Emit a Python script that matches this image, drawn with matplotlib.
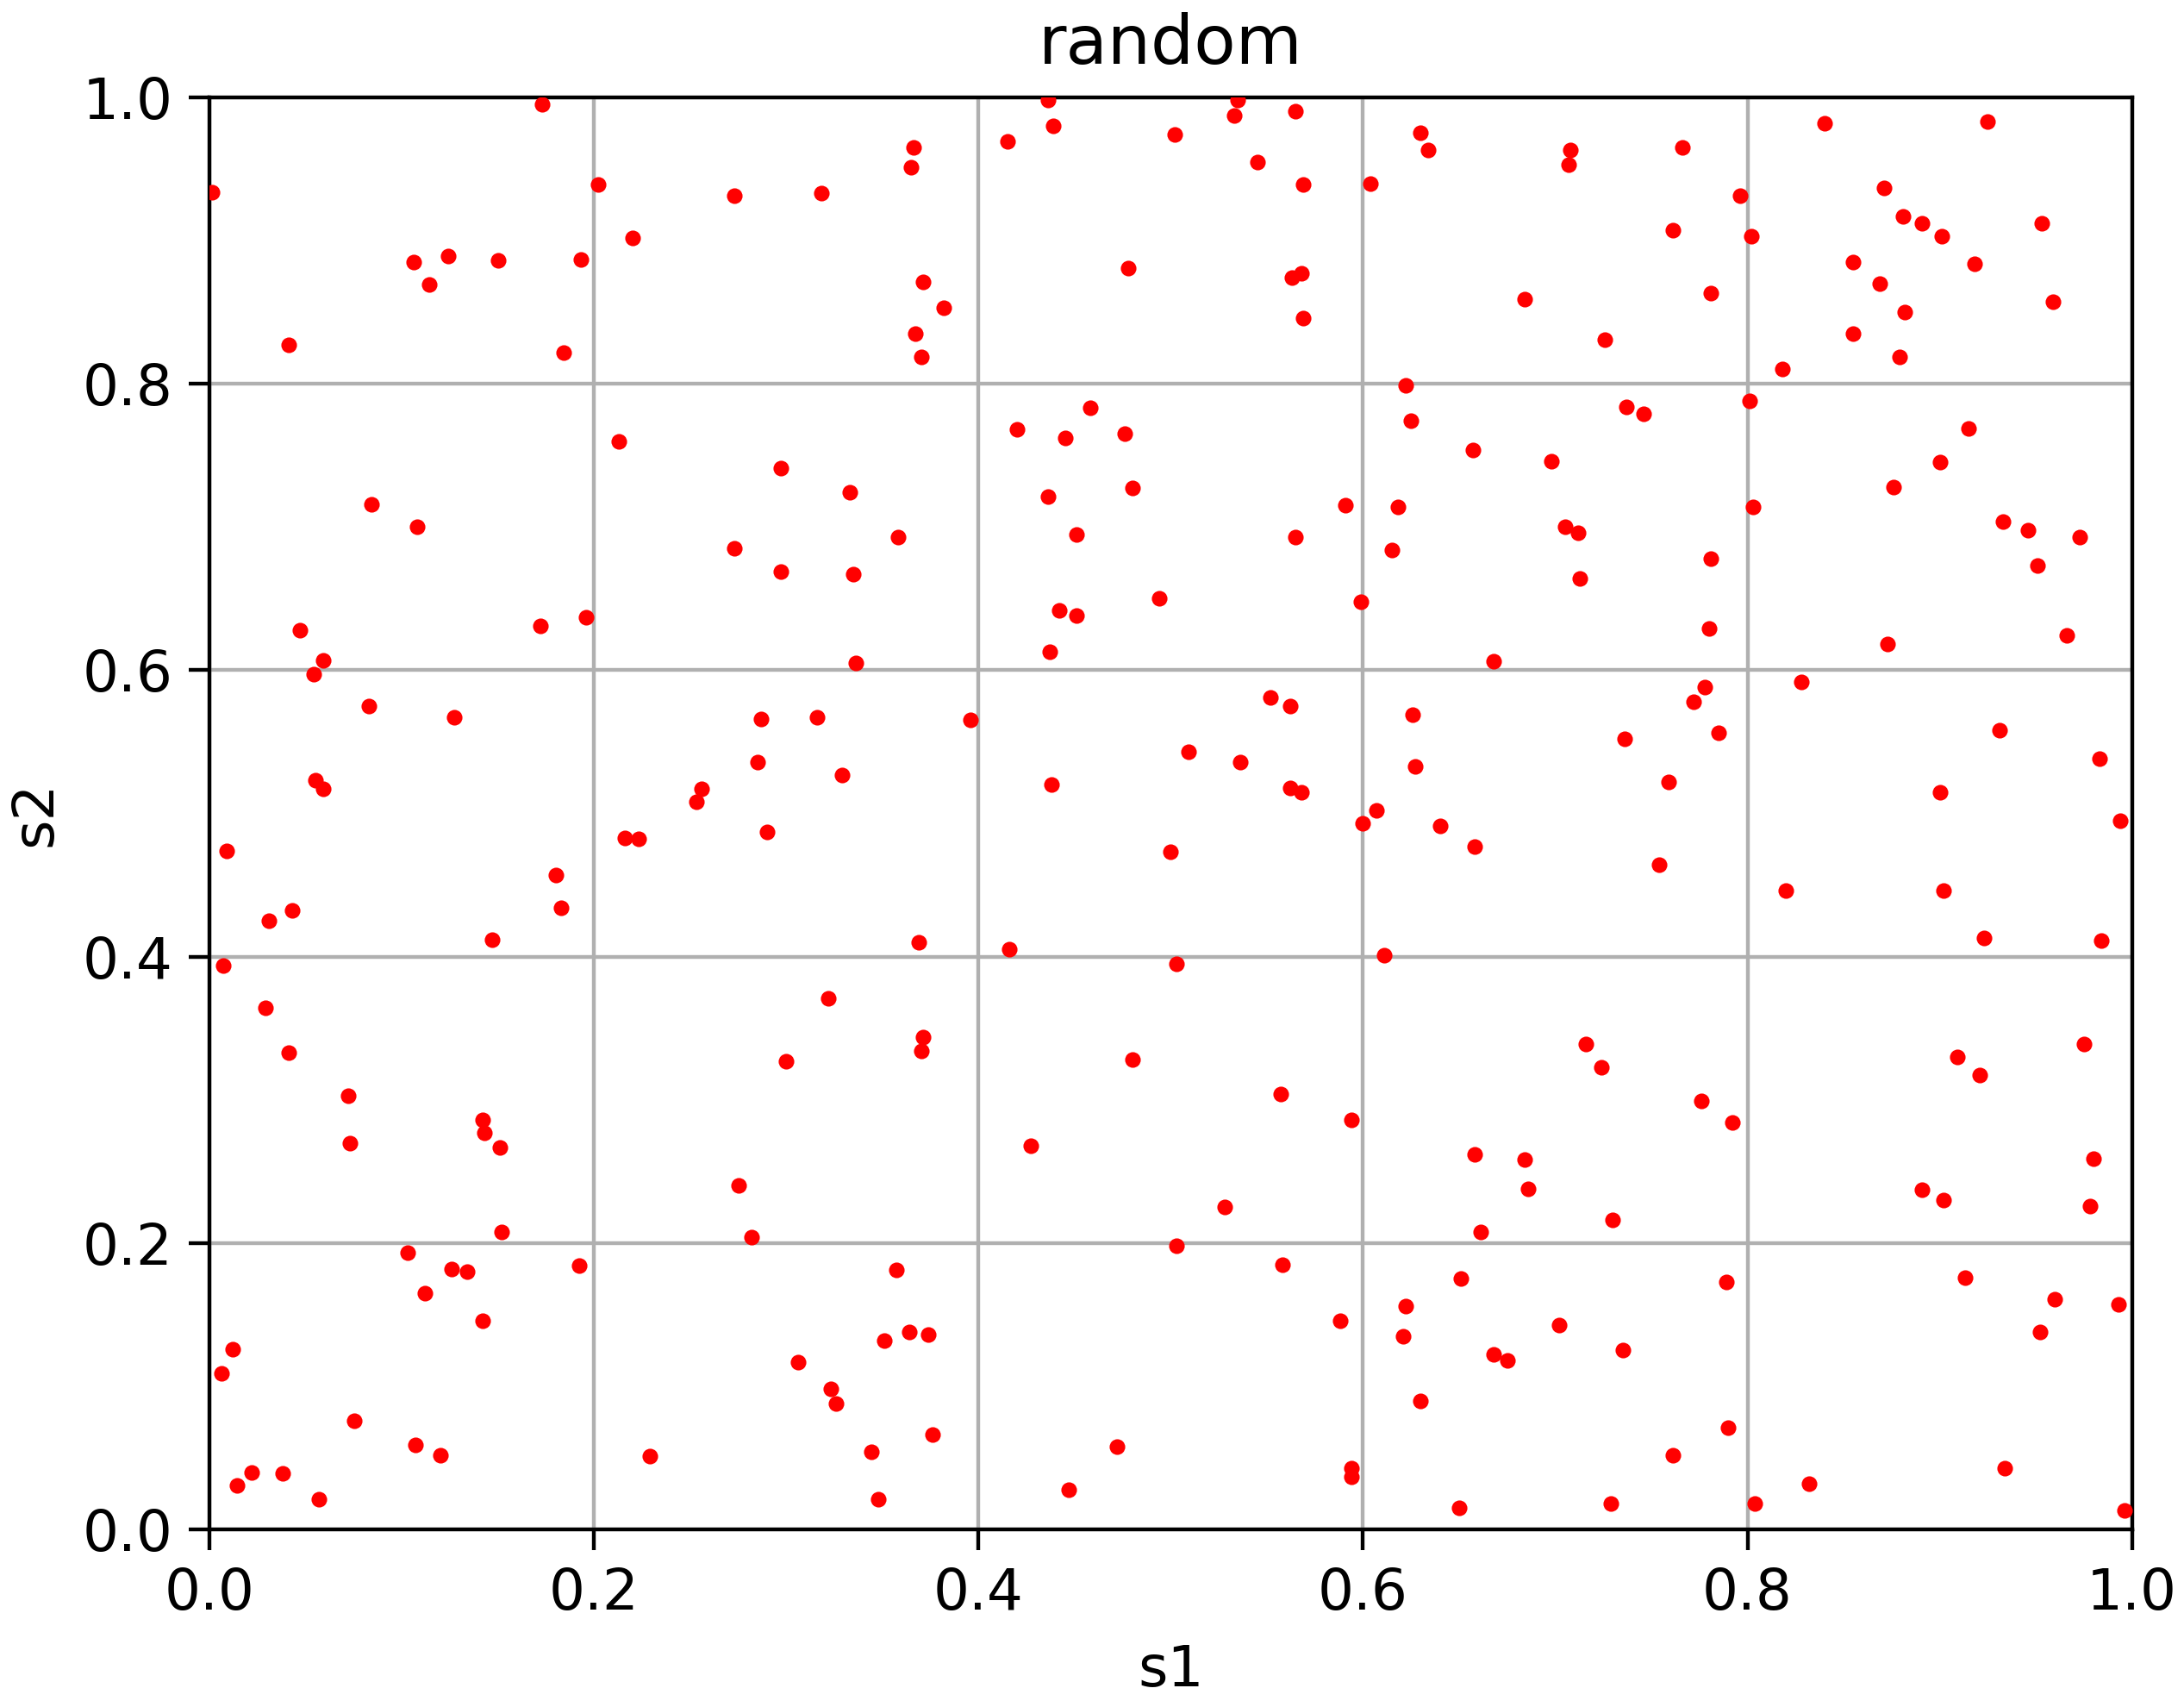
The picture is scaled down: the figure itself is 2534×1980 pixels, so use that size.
import numpy as np
import matplotlib
matplotlib.use("Agg")
import matplotlib.pyplot as plt

# sample points, grouped by s1 column band
s1_a = [0.001, 0.009, 0.007, 0.012, 0.006, 0.014, 0.022, 0.038, 0.057, 0.075,
        0.031, 0.043, 0.029, 0.041, 0.072, 0.073, 0.041, 0.047, 0.059, 0.054,
        0.055, 0.059, 0.084, 0.083, 0.108, 0.106, 0.114, 0.124, 0.150, 0.127,
        0.103, 0.112, 0.126, 0.134, 0.107, 0.120, 0.142, 0.143, 0.151, 0.152,
        0.142, 0.147, 0.173, 0.193, 0.184, 0.172, 0.196, 0.180, 0.183, 0.192]
s2_a = [0.934, 0.474, 0.394, 0.126, 0.109, 0.031, 0.040, 0.039, 0.021, 0.076,
        0.425, 0.432, 0.364, 0.333, 0.303, 0.270, 0.827, 0.628, 0.607, 0.597,
        0.523, 0.517, 0.716, 0.575, 0.700, 0.885, 0.869, 0.889, 0.886, 0.567,
        0.193, 0.165, 0.182, 0.180, 0.059, 0.052, 0.286, 0.277, 0.267, 0.208,
        0.146, 0.412, 0.995, 0.887, 0.822, 0.631, 0.637, 0.457, 0.434, 0.184]

s1_b = [0.202, 0.220, 0.213, 0.216, 0.223, 0.229, 0.273, 0.318, 0.273, 0.297,
        0.297, 0.333, 0.335, 0.336, 0.366, 0.365, 0.371, 0.382, 0.367, 0.370,
        0.358, 0.253, 0.256, 0.287, 0.285, 0.290, 0.316, 0.329, 0.322, 0.300,
        0.275, 0.282, 0.306, 0.323, 0.326, 0.344, 0.348, 0.351, 0.357, 0.364,
        0.374, 0.376, 0.369, 0.371, 0.370, 0.396]
s2_b = [0.939, 0.902, 0.760, 0.483, 0.482, 0.051, 0.931, 0.933, 0.685, 0.741,
        0.669, 0.724, 0.667, 0.605, 0.965, 0.951, 0.871, 0.853, 0.835, 0.819,
        0.693, 0.508, 0.517, 0.566, 0.536, 0.487, 0.567, 0.527, 0.371, 0.327,
        0.240, 0.204, 0.117, 0.098, 0.088, 0.054, 0.021, 0.132, 0.181, 0.138,
        0.136, 0.066, 0.410, 0.344, 0.334, 0.565]

s1_c = [0.415, 0.436, 0.439, 0.420, 0.445, 0.458, 0.436, 0.451, 0.476, 0.480,
        0.478, 0.502, 0.533, 0.535, 0.545, 0.565, 0.569, 0.563, 0.568, 0.569,
        0.442, 0.451, 0.437, 0.494, 0.438, 0.416, 0.427, 0.480, 0.472, 0.447,
        0.509, 0.500, 0.503, 0.503, 0.528, 0.536, 0.552, 0.562, 0.562, 0.568,
        0.565, 0.557, 0.558, 0.591, 0.599, 0.588, 0.594, 0.594, 0.594, 0.600]
s2_c = [0.969, 0.998, 0.980, 0.768, 0.762, 0.783, 0.721, 0.695, 0.765, 0.727,
        0.881, 0.974, 0.987, 0.998, 0.955, 0.990, 0.939, 0.874, 0.877, 0.846,
        0.642, 0.638, 0.613, 0.650, 0.520, 0.405, 0.268, 0.328, 0.058, 0.028,
        0.543, 0.473, 0.395, 0.198, 0.225, 0.536, 0.581, 0.575, 0.518, 0.515,
        0.693, 0.304, 0.185, 0.715, 0.648, 0.146, 0.043, 0.037, 0.286, 0.493]

s1_d = [0.604, 0.622, 0.625, 0.618, 0.615, 0.657, 0.630, 0.634, 0.684, 0.698,
        0.705, 0.712, 0.713, 0.708, 0.707, 0.726, 0.737, 0.746, 0.766, 0.761,
        0.781, 0.796, 0.781, 0.780, 0.778, 0.772, 0.785, 0.668, 0.626, 0.627,
        0.607, 0.640, 0.658, 0.611, 0.736, 0.759, 0.754, 0.716, 0.724, 0.658,
        0.661, 0.684, 0.686, 0.730, 0.776, 0.792, 0.651, 0.622, 0.621, 0.630,
        0.668, 0.675, 0.702, 0.735, 0.650, 0.729, 0.761, 0.789, 0.790]
s2_d = [0.940, 0.799, 0.774, 0.714, 0.684, 0.754, 0.975, 0.963, 0.859, 0.746,
        0.700, 0.696, 0.664, 0.963, 0.953, 0.831, 0.784, 0.779, 0.965, 0.907,
        0.863, 0.931, 0.678, 0.629, 0.588, 0.578, 0.556, 0.606, 0.569, 0.533,
        0.502, 0.491, 0.477, 0.401, 0.552, 0.522, 0.464, 0.339, 0.323, 0.262,
        0.208, 0.258, 0.238, 0.216, 0.299, 0.284, 0.175, 0.156, 0.135, 0.090,
        0.122, 0.118, 0.143, 0.125, 0.015, 0.018, 0.052, 0.173, 0.071]

s1_e = [0.802, 0.840, 0.818, 0.801, 0.803, 0.855, 0.871, 0.881, 0.891, 0.901,
        0.925, 0.869, 0.855, 0.882, 0.879, 0.918, 0.953, 0.959, 0.915, 0.900,
        0.876, 0.933, 0.946, 0.951, 0.973, 0.873, 0.966, 0.828, 0.931, 0.983,
        0.994, 0.900, 0.820, 0.902, 0.923, 0.984, 0.975, 0.909, 0.921, 0.980,
        0.891, 0.902, 0.978, 0.913, 0.960, 0.993, 0.952, 0.934, 0.832, 0.804,
        0.996]
s2_e = [0.903, 0.982, 0.810, 0.788, 0.714, 0.885, 0.937, 0.917, 0.912, 0.903,
        0.983, 0.870, 0.835, 0.850, 0.819, 0.884, 0.912, 0.857, 0.769, 0.745,
        0.728, 0.704, 0.698, 0.673, 0.693, 0.618, 0.624, 0.592, 0.558, 0.538,
        0.495, 0.515, 0.446, 0.446, 0.413, 0.411, 0.339, 0.330, 0.317, 0.259,
        0.237, 0.230, 0.226, 0.176, 0.161, 0.157, 0.138, 0.043, 0.032, 0.018,
        0.013]

s1 = np.array(s1_a + s1_b + s1_c + s1_d + s1_e)
s2 = np.array(s2_a + s2_b + s2_c + s2_d + s2_e)

plt.rcParams['font.size'] = 12
plt.rcParams['xtick.major.size'] = 4.3
plt.rcParams['ytick.major.size'] = 4.3

fig, ax = plt.subplots(figsize=(6.4, 5.0), dpi=396)
fig.subplots_adjust(left=0.096, right=0.976, top=0.943, bottom=0.104)

ax.plot(s1, s2, 'o', color='red', ms=3.3, mew=0, zorder=3)
ax.set_xlim(0, 1)
ax.set_ylim(0, 1)
ax.grid(True, color='#b0b0b0', linewidth=0.8)
ax.set_axisbelow(True)
ax.set_xlabel('s1', labelpad=4.5)
ax.set_ylabel('s2')
ax.set_title('random', pad=7)

plt.savefig('out.png', dpi=396)
